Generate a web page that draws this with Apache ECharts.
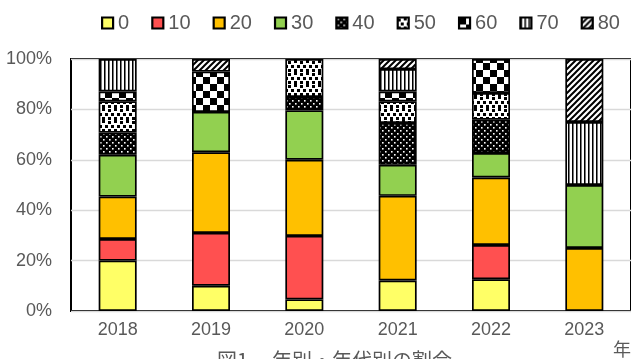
<!DOCTYPE html>
<html><head><meta charset="utf-8">
<script src="https://cdn.jsdelivr.net/npm/echarts@6/dist/echarts.min.js"></script>
<style>html,body{margin:0;padding:0;background:#fff}#c{width:631px;height:359px}</style>
</head><body><div id="c"></div>
<script>
// ---- data (percent of each year's total) ----
const years = ['2018', '2019', '2020', '2021', '2022', '2023'];
const ageGroups = ['0', '10', '20', '30', '40', '50', '60', '70', '80'];
const s0  = [20.0, 10.0, 4.6, 12.1, 12.6, 0];
const s10 = [8.6, 21.0, 25.2, 0, 13.6, 0];
const s20 = [16.8, 32.0, 30.2, 33.6, 26.8, 25];
const s30 = [16.6, 16.0, 19.6, 12.3, 9.7, 25];
const s40 = [8.8, 0, 5.3, 16.6, 13.2, 0];
const s50 = [12.4, 0, 15.1, 8.6, 10.6, 0];
const s60 = [3.9, 16.0, 0, 3.9, 13.5, 0];
const s70 = [12.9, 0, 0, 8.9, 0, 25];
const s80 = [0, 5.0, 0, 4.0, 0, 25];
const seriesValues = [s0, s10, s20, s30, s40, s50, s60, s70, s80];
const captionA = '図1';
const captionB = '年別・年代別の割合';
const xName = '年';

// ---- pattern fills ----
function mk(w, h, draw) {
  const c = document.createElement('canvas');
  c.width = w; c.height = h;
  const g = c.getContext('2d');
  draw(g, w, h);
  return { image: c, repeat: 'repeat' };
}
const pDots = mk(6, 6, (g, w, h) => {
  g.fillStyle = '#000'; g.fillRect(0, 0, w, h);
  g.fillStyle = '#fff'; g.fillRect(1, 1, 1.6, 1.6); g.fillRect(4, 4, 1.6, 1.6);
});
const pConfetti = mk(12, 12, (g, w, h) => {
  g.fillStyle = '#fff'; g.fillRect(0, 0, w, h);
  g.fillStyle = '#000';
  [[0, 1], [6, 0], [3, 5], [9, 5], [0, 9], [6, 9]].forEach(p => g.fillRect(p[0], p[1], 3, 3));
});
const pChecker = mk(14, 14, (g, w, h) => {
  g.fillStyle = '#fff'; g.fillRect(0, 0, w, h);
  g.fillStyle = '#000'; g.fillRect(0, 0, 7, 7); g.fillRect(7, 7, 7, 7);
});
const pVert = mk(4, 4, (g, w, h) => {
  g.fillStyle = '#fff'; g.fillRect(0, 0, w, h);
  g.fillStyle = '#000'; g.fillRect(0, 0, 1, h);
  g.fillStyle = '#777'; g.fillRect(1, 0, 1, h);
});
const pDiag = mk(6, 6, (g, w, h) => {
  g.fillStyle = '#fff'; g.fillRect(0, 0, w, h);
  g.strokeStyle = '#000'; g.lineWidth = 2;
  g.beginPath();
  g.moveTo(-1, 7); g.lineTo(7, -1);
  g.moveTo(-4, 4); g.lineTo(4, -4);
  g.moveTo(2, 10); g.lineTo(10, 2);
  g.stroke();
});
const fills = ['#FFFF66', '#FF5050', '#FFC000', '#92D050', pDots, pConfetti, pChecker, pVert, pDiag];

const chart = echarts.init(document.getElementById('c'));
chart.setOption({
  animation: false,
  textStyle: { fontFamily: 'Liberation Sans' },
  legend: {
    left: 96, top: 8, itemGap: 22, itemWidth: 11, itemHeight: 11, icon: 'rect',
    itemStyle: { borderColor: '#000', borderWidth: 2.2 },
    textStyle: { fontSize: 20, color: '#595959', fontFamily: 'Liberation Sans' },
    data: ageGroups
  },
  grid: { left: 71, top: 59, width: 563, height: 252, show: true, borderColor: '#000', borderWidth: 2, containLabel: false },
  xAxis: {
    type: 'category', data: years,
    axisLine: { show: false }, axisTick: { show: false },
    axisLabel: { fontSize: 18, color: '#595959', margin: 10, fontFamily: 'Liberation Sans' }
  },
  yAxis: {
    type: 'value', min: 0, max: 100, interval: 20,
    axisLine: { show: false }, axisTick: { show: false },
    axisLabel: { fontSize: 18, color: '#595959', margin: 19, formatter: '{value}%', fontFamily: 'Liberation Sans' },
    splitLine: { lineStyle: { color: '#D9D9D9', width: 1.3 } }
  },
  series: ageGroups.map((name, i) => ({
    name: name, type: 'bar', stack: 'total', barWidth: 38,
    itemStyle: { color: fills[i], borderColor: '#000', borderWidth: 1.7 },
    data: seriesValues[i].map(v => v === 0 ? '-' : v)
  })),
  graphic: [
    { type: 'text', left: 217, top: 350, style: { text: captionA, fontSize: 20, fill: '#595959', fontFamily: 'Noto Sans CJK JP' } },
    { type: 'text', left: 272, top: 350, style: { text: captionB, fontSize: 20, fill: '#595959', fontFamily: 'Noto Sans CJK JP' } },
    { type: 'text', left: 613, top: 340, style: { text: xName, fontSize: 18, fill: '#595959', fontFamily: 'Noto Sans CJK JP' } }
  ]
});
</script></body></html>
